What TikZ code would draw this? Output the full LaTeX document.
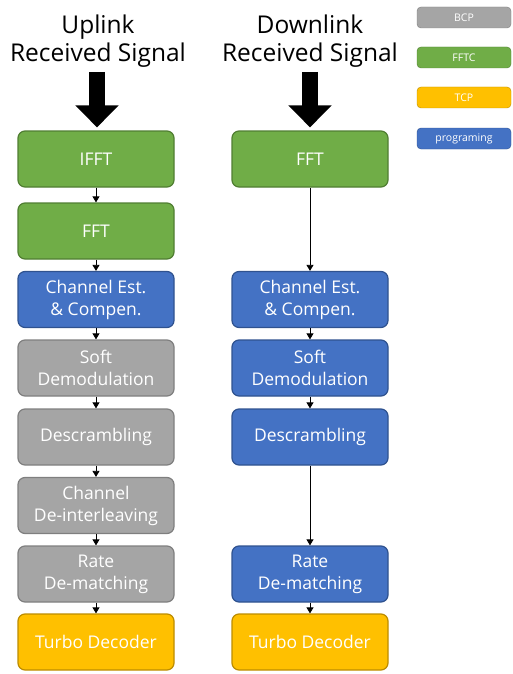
\documentclass[tikz,border=0pt]{standalone}
\usepackage{fontspec}
\setmainfont{Open Sans}
\usetikzlibrary{arrows.meta, positioning}
\definecolor{bcpGray}{HTML}{A5A5A5}
\definecolor{bcpEdge}{HTML}{7F7F7F}
\definecolor{fftcGreen}{HTML}{70AD47}
\definecolor{fftcEdge}{HTML}{507E32}
\definecolor{tcpGold}{HTML}{FFC000}
\definecolor{tcpEdge}{HTML}{BC8C00}
\definecolor{progBlue}{HTML}{4472C4}
\definecolor{progEdge}{HTML}{2F528F}
\tikzset{
  stage/.style={line width=1.2pt, rounded corners=7pt, minimum width=156pt,
                minimum height=56pt, text=white, align=center,
                font=\fontsize{17.5}{22}\selectfont, inner sep=2pt},
  bcp/.style={stage, fill=bcpGray, draw=bcpEdge},
  fftc/.style={stage, fill=fftcGreen, draw=fftcEdge},
  tcp/.style={stage, fill=tcpGold, draw=tcpEdge},
  prog/.style={stage, fill=progBlue, draw=progEdge},
  key/.style={minimum width=94pt, minimum height=21pt, rounded corners=4pt,
              text=white, font=\fontsize{10.5}{12}\selectfont},
  title/.style={align=center, font=\fontsize{24.5}{28}\selectfont},
  flow/.style={-{Triangle[width=7pt,length=6pt]}, line width=0.8pt},
  bigarrow/.style={-{Triangle[width=42pt,length=22pt]}, line width=16pt},
}
\begin{document}
\begin{tikzpicture}[x=1pt, y=-1pt]
\useasboundingbox (0,0) rectangle (512,674);

% titles
\node[title] (ultitle) at (98,41) {Uplink\\Received Signal};
\node[title] (dltitle) at (310,41) {Downlink\\Received Signal};

% uplink chain
\node[fftc] (ulifft) at (96,159) {IFFT};
\node[fftc] (ulfft) at (96,231) {FFT};
\node[prog] (ulchest) at (96,299.5) {Channel Est.\\\& Compen.};
\node[bcp] (uldemod) at (96,368) {Soft\\Demodulation};
\node[bcp] (uldescr) at (96,437) {Descrambling};
\node[bcp] (uldeint) at (96,505.5) {Channel\\De-interleaving};
\node[bcp] (ulrate) at (96,574) {Rate\\De-matching};
\node[tcp] (ulturbo) at (96,642) {Turbo Decoder};

% downlink chain
\node[fftc] (dlfft) at (310,159) {FFT};
\node[prog] (dlchest) at (310,299.5) {Channel Est.\\\& Compen.};
\node[prog] (dldemod) at (310,368) {Soft\\Demodulation};
\node[prog] (dldescr) at (310,437) {Descrambling};
\node[prog] (dlrate) at (310,574) {Rate\\De-matching};
\node[tcp] (dlturbo) at (310,642) {Turbo Decoder};

% legend
\node[key, fill=bcpGray, draw=bcpEdge] (keybcp) at (464,17.5) {BCP};
\node[key, fill=fftcGreen, draw=fftcEdge] (keyfftc) at (464,57.5) {FFTC};
\node[key, fill=tcpGold, draw=tcpEdge] (keytcp) at (464,97.5) {TCP};
\node[key, fill=progBlue, draw=progEdge] (keyprog) at (464,138.5) {programing};

% input arrows
\coordinate (ulin) at (97,72);
\coordinate (dlin) at (310,72);
\draw[bigarrow] (ulin) -- ([yshift=3pt]ulin |- ulifft.north);
\draw[bigarrow] (dlin) -- ([yshift=3pt]dlin |- dlfft.north);

% connectors
\foreach \a/\b in {ulifft/ulfft, ulfft/ulchest, ulchest/uldemod, uldemod/uldescr,
                   uldescr/uldeint, uldeint/ulrate, ulrate/ulturbo,
                   dlfft/dlchest, dlchest/dldemod, dldemod/dldescr,
                   dldescr/dlrate, dlrate/dlturbo}
  \draw[flow] (\a) -- (\b);
\end{tikzpicture}
\end{document}
